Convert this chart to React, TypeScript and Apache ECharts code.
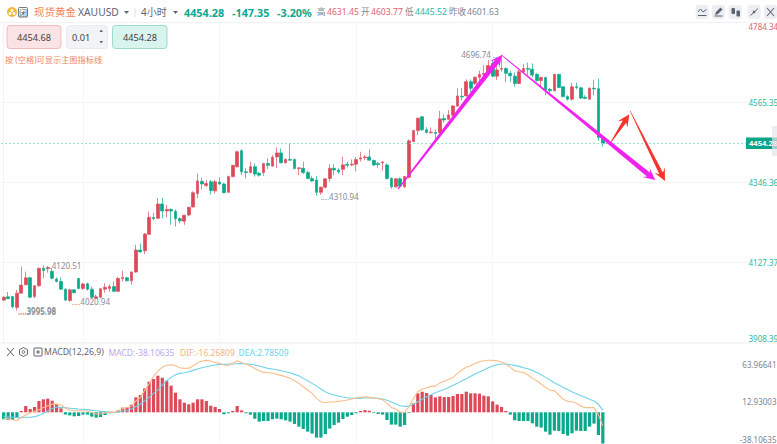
import React, { useEffect, useRef } from "react";
import * as echarts from "echarts";

const FONT = '"Noto Sans", "Noto Sans CJK SC", sans-serif';
const RED = "#dc4a5a";
const GREEN = "#0aa88c";

const opens = [
  4025,4034,4035,4005,4044,4067,4086,4035,4064,4112,
  4111,4104,4083,4076,4055,4024,4053,4084,4057,4070,
  4055,4030,4033,4055,4057,4062,4049,4084,4086,4078,
  4102,4162,4160,4205,4251,4249,4288,4269,4273,4268,
  4248,4241,4258,4280,4317,4350,4339,4349,4324,4348,
  4343,4320,4363,4390,4434,4376,4374,4390,4372,4374,
  4399,4392,4417,4428,4401,4410,4410,4385,4386,4374,
  4358,4354,4320,4334,4358,4386,4381,4383,4397,4395,
  4397,4411,4415,4417,4407,4399,4401,4395,4358,4335,
  4357,4335,4361,4459,4489,4527,4491,4483,4484,4483,
  4522,4520,4531,4556,4583,4584,4623,4618,4635,4643,
  4644,4673,4638,4657,4659,4646,4638,4618,4650,4659,
  4657,4643,4626,4634,4602,4598,4643,4609,4582,4575,
  4609,4606,4580,4575,4605,4603.77,4470,
];
const closes = [
  4033,4029,4007,4044,4066,4086,4033,4064,4112,4106,
  4114,4085,4076,4055,4025,4053,4045,4057,4069,4055,
  4033,4034,4056,4060,4062,4049,4084,4087,4078,4102,
  4162,4157,4206,4252,4248,4288,4269,4273,4269,4248,
  4242,4257,4279,4319,4351,4343,4344,4325,4349,4343,
  4319,4363,4394,4431,4376,4374,4390,4370,4367,4399,
  4394,4416,4428,4401,4410,4408,4385,4387,4374,4358,
  4351,4320,4334,4357,4386,4381,4376,4395,4394,4397,
  4410,4414,4417,4408,4395,4396,4403,4358,4335,4357,
  4337,4363,4461,4489,4523,4491,4484,4485,4481,4521,
  4518,4532,4556,4584,4581,4623,4605,4635,4643,4645,
  4667,4638,4655,4659,4646,4639,4618,4650,4659,4657,
  4641,4626,4634,4600,4598,4643,4607,4582,4575,4609,
  4607,4578,4577,4605,4603,4470,4454.28,
];
const lows = [
  4022,4028,4002,3995.98,4044,4066,4030,4030,4062,4085,
  4100,4082,4073,4053,4023,4020.94,4044,4055,4053,4051,
  4030,4028,4030,4045,4048,4047,4047,4076,4076,4067,
  4100,4155,4151,4205,4244,4248,4249,4252,4231,4226,
  4235,4231,4255,4279,4304,4328,4334,4314,4317,4340,
  4317,4319,4361,4388,4367,4358,4372,4363,4363,4365,
  4384,4390,4386,4399,4399,4407,4383,4367,4370,4356,
  4349,4310.94,4313,4331,4349,4367,4370,4367,4388,4392,
  4378,4404,4408,4407,4392,4387,4379,4355,4330,4333,
  4334,4333,4358,4457,4477,4489,4481,4481,4465,4481,
  4511,4518,4529,4554,4571,4582,4595,4614,4623,4632,
  4642,4636,4627,4650,4621,4623,4609,4616,4646,4641,
  4635,4623,4609,4586,4589,4596,4606,4580,4571,4571,
  4602,4576,4575,4574,4586,4461,4445.52,
];
const highs = [
  4036,4047,4036,4053,4117,4103,4089,4066,4114,4120.51,
  4118,4112,4087,4087,4057,4055,4055,4085,4073,4073,
  4062,4040,4057,4071,4068,4076,4089,4106,4089,4103,
  4176,4180,4208,4267,4264,4304,4305,4285,4276,4273,
  4252,4259,4281,4323,4372,4360,4354,4354,4354,4361,
  4346,4366,4395,4434,4438,4386,4404,4399,4376,4401,
  4413,4422,4443,4440,4413,4454,4413,4388,4404,4379,
  4365,4365,4336,4359,4397,4397,4386,4417,4404,4410,
  4417,4431,4422,4438,4410,4404,4406,4399,4361,4359,
  4361,4365,4465,4491,4525,4529,4498,4498,4492,4543,
  4534,4545,4559,4605,4606,4629,4629,4637,4653,4668,
  4682,4682,4682,4696.74,4662,4653,4648,4655,4671,4675,
  4673,4646,4637,4637,4606,4644,4644,4611,4586,4620,
  4620,4609,4586,4607,4628,4631.45,4472,
];

const macdBars = [
  -8.5,-9.4,-9.4,-6.9,1.6,7.7,4.1,6.5,13.8,15.9,
  16.7,14.2,10.2,4.9,-2.8,-3.7,-4.9,-4.5,-2.8,-2.8,
  -5.3,-6.5,-5.7,-3.3,-1.2,-0.8,2.4,5.7,6.1,9.4,
  18.3,21.2,29.3,37.4,40.7,44.8,42.3,38.7,32.6,24,
  15.9,11.8,9.8,11.8,15.9,15.9,13.8,8.1,6.5,4.1,
  -2.4,-1.2,1.6,7.7,2.4,-1.2,-2.8,-7.7,-11.4,-10.6,
  -10.6,-8.5,-7.7,-8.5,-9.8,-11.4,-14.2,-17.5,-20.4,-23.6,
  -26,-30.9,-30.9,-26.5,-19.9,-15.5,-12.6,-8.1,-5.3,-3.3,
  -1.2,1.6,2.8,2,-0.8,-2,-2.8,-9.4,-15,-15,
  -17.5,-15.5,-0.8,11,23.2,25.2,23.6,21.2,18.3,19.5,
  18.7,18.7,19.9,22.4,22.4,25.2,23.2,23.2,22.8,20.4,
  19.5,13.4,9.4,6.5,1.6,-2.8,-9.8,-10.6,-10.6,-10.6,
  -13.4,-17.5,-18.7,-23.6,-27.3,-22.4,-22.8,-26.5,-28.5,-25.6,
  -22.4,-22.8,-22.8,-17.5,-13.8,-27.7,-38.10635,
];
const difLine = [
  -7.5,-8,-9,-10,-6,-3.3,-0.4,1.2,3,6,
  8,10,10,9,5.3,2.8,2,2,2,1.6,
  -0.4,-2,-2,-0.8,0,0,2,4.5,5.7,7.7,
  14,18,27,35,44,50.5,55,57.4,58.2,57,
  54.5,53.7,54,56.6,60.6,62.7,63.5,62.7,61,59.8,
  57.8,57.4,59.8,63,60.6,59,56.6,53.7,50.9,48.8,
  48.4,48,46.4,45.2,43.5,41.5,38.7,35.4,31.3,27.3,
  23.2,17,13,11.8,12.6,12.6,13.4,14.2,15,16.3,
  17.5,18.3,19,18.3,17.5,16.7,15.5,11,6,3.7,
  0.4,0,7,16.7,25.2,28.5,30,31.7,32,36,
  38,40.3,42.7,47.6,51.7,55,57,59.8,61.9,63,
  63.96641,63.5,63,61.5,59,55,50.9,49.7,48.8,45.6,
  41.5,38.7,34.6,30.5,26.9,26.5,21.2,15.9,13.4,13,
  11,7.7,5.7,5.7,5.7,-3.3,-16.26809,
];
const deaLine = [
  -5,-5.5,-6,-6.5,-6.5,-6,-6,-5.3,-3.7,-1.2,
  1.6,4.5,6.5,5.7,5.7,4.9,4.5,4,3.7,3.3,
  2.4,2,1.2,0.8,0.4,0,0.4,1.6,2,4,
  7,10,14,18.3,23.2,27.3,33.4,38.7,42.7,46,
  47.6,48.4,49.7,51.3,53,54.5,55.8,57,57.8,58.6,
  58.6,59,59,59.4,59.8,59.4,58.6,57.8,56.6,55,
  53.7,53,52,50.9,49.7,48.4,46.4,44.8,41.5,38.7,
  35.4,32,28.5,25.2,22.8,21.2,19.9,18.7,17.9,17.5,
  17,17,17.5,17.5,17.5,17,16.3,14.7,12.6,10.6,
  8.1,7.3,7.3,9.8,13,15.9,19.1,21.6,24,26,
  28,30.5,33,35.4,38.7,41,44,46.8,49.2,51.7,
  54.5,56.6,58.2,59,59,58.2,57.4,56.2,54.5,53.3,
  51.3,48.8,46,42.7,39.5,36.2,33.4,30.5,28,25.2,
  22.8,20.4,18.3,15.9,13.8,9.8,2.78509,
];

const CATEGORY_COUNT = 169;
const categories = Array.from({ length: CATEGORY_COUNT }, (_, i) => String(i));
const verticalGridAt = [18, 49, 80, 111];

const priceTicks = [3908.39, 4127.37, 4346.36, 4565.35, 4784.34];
const macdTicks = [-38.10635, 12.93003, 63.96641];
const lastPrice = 4454.28;

// [candle position, price, label, side, dy, gap]
const extremeLabels: [number, number, string, string, number, number][] = [
  [113, 4696.74, "4696.74 ....", "left", 0, 0],
  [71, 4310.94, "....4310.94", "right", 1, 4],
  [9, 4120.51, "...4120.51", "right", 0, 2],
  [15, 4020.94, "....4020.94", "right", 0, 2],
  [3, 3995.98, "....3995.98", "right", 0, 1],
  [3, 3995.98, "....3995.98", "right", 1.2, 1],
];

// [from position, from price, to position, to price]
const arrowPaths = [
  [89.5, 4329, 113.1, 4695.8],
  [113, 4695.8, 147.9, 4353.7],
  [137.9, 4458.5, 142, 4533.5],
  [142.2, 4543, 150.1, 4351],
];
const arrowColors = ["#ef22ee", "#ef22ee", "#f5342c", "#f5342c"];
const arrowWidths = [[1.2, 5], [0.8, 5], [0.8, 4], [0.5, 4]];

const T = (text: string, x: number, y: number, fill: string, fontSize = 11, fontWeight: any = "normal", textAlign = "left") => ({
  type: "text", x, y, silent: true, z: 50,
  style: { text, fill, fontSize, fontWeight, fontFamily: FONT, textAlign, verticalAlign: "middle" },
});
const box = (x: number, y: number, width: number, height: number, fill: string, stroke = "none", r = 3) => ({
  type: "rect", z: 40, silent: true, shape: { x, y, width, height, r },
  style: { fill, stroke, lineWidth: 1 },
});
const seg = (x1: number, y1: number, x2: number, y2: number, stroke: string, lineWidth = 1) => ({
  type: "line", z: 41, silent: true, shape: { x1, y1, x2, y2 }, style: { stroke, lineWidth },
});
const poly = (points: number[][], fill: string) => ({
  type: "polygon", z: 41, silent: true, shape: { points }, style: { fill },
});
const pline = (points: number[][], stroke: string, lineWidth = 1) => ({
  type: "polyline", z: 41, silent: true, shape: { points }, style: { stroke, lineWidth, fill: "none" },
});

const ICON = "#5c6470";
const headerGraphics: any[] = [
  seg(0, 22.7, 777, 22.7, "#f1f2f4"),
  seg(0, 343, 777, 343, "#eff0f2"),
  ...[83, 219.5, 356, 492.7].map((x) => seg(x, 343, x, 360, "#f5f6f7")),
  { type: "circle", z: 40, silent: true, shape: { cx: 12, cy: 12, r: 5 }, style: { fill: "#f0b83c" } },
  { type: "circle", z: 41, silent: true, shape: { cx: 12, cy: 10.5, r: 1.4 }, style: { fill: "#fff" } },
  { type: "circle", z: 41, silent: true, shape: { cx: 10, cy: 13.5, r: 1.4 }, style: { fill: "#fff" } },
  { type: "circle", z: 41, silent: true, shape: { cx: 14, cy: 13.5, r: 1.4 }, style: { fill: "#fff" } },
  box(18.5, 7.5, 9, 9.5, "#fff", "#777", 1),
  T("闭", 23, 12.5, "#555", 8, "normal", "center"),
  T("现货黄金", 34, 12, "#f2845c", 10.5),
  T("XAUUSD", 78, 12, "#5f6672", 10.3),
  poly([[124, 11], [129, 11], [126.5, 14]], "#5f6672"),
  seg(135, 8, 135, 17, "#dcdfe4"),
  T("4小时", 141, 12, "#5f6672", 10),
  poly([[173, 11], [178, 11], [175.5, 14]], "#5f6672"),
  T("4454.28", 184, 12, "#0aa88c", 10.8, "bold"),
  T("-147.35", 232, 12, "#0aa88c", 10.8, "bold"),
  T("-3.20%", 277, 12, "#0aa88c", 10.8, "bold"),
  T("高", 317, 12, "#7d8590", 8.6),
  T("4631.45", 327, 12, "#e0606f", 8.6),
  T("开", 361, 12, "#7d8590", 8.6),
  T("4603.77", 371, 12, "#e0606f", 8.6),
  T("低", 405, 12, "#7d8590", 8.6),
  T("4445.52", 415, 12, "#2bb79f", 8.6),
  T("昨收", 449, 12, "#7d8590", 8.6),
  T("4601.63", 467, 12, "#7d8590", 8.6),

  box(7, 25.5, 54, 23, "#fbe3e5", "#f3b9bf"),
  T("4454.68", 34, 37.5, "#444", 9.2, "normal", "center"),
  box(66.5, 25.5, 41, 23, "#f1f3f6", "#e8eaee"),
  T("0.01", 72, 37.5, "#444", 9.2),
  poly([[99.5, 32], [103, 32], [101.25, 29.5]], "#666"),
  poly([[99.5, 41], [103, 41], [101.25, 43.5]], "#666"),
  box(112.5, 25.5, 54.5, 23, "#d9f3ed", "#97dccd"),
  T("4454.28", 140, 37.5, "#444", 9.2, "normal", "center"),
  T("按 (空格)可显示主图指标线", 5, 59, "#f2845c", 8.2),

  box(695.7, 5, 13, 14, "#eceef2"),
  box(712, 5, 13, 14, "#eceef2"),
  box(728.7, 5, 13, 14, "#eceef2"),
  box(747.7, 5, 13, 14, "#eceef2"),
  box(764, 5, 13, 14, "#eceef2"),
  pline([[698, 12], [700.5, 9], [703, 12], [706.5, 9.5]], ICON),
  seg(698, 15.5, 706.5, 15.5, ICON),
  poly([[715, 15], [716, 12], [720.5, 7.5], [722.5, 9.5], [718, 14]], ICON),
  seg(714.5, 16, 722.5, 16, ICON),
  box(731.5, 8, 3.5, 6, ICON, "none", 1),
  box(736.5, 10.5, 3.5, 6, ICON, "none", 1),
  seg(750.5, 15.5, 758, 8.5, ICON),
  { type: "circle", z: 41, silent: true, shape: { cx: 754, cy: 12, r: 1.3 }, style: { fill: ICON } },
  seg(767, 8, 774, 16, ICON, 1.1),
  seg(774, 8, 767, 16, ICON, 1.1),

  seg(7, 348, 14, 356, ICON, 1),
  seg(14, 348, 7, 356, ICON, 1),
  { type: "polygon", z: 41, silent: true, shape: { points: [[23.5, 347.5], [27.5, 349.7], [27.5, 354.3], [23.5, 356.5], [19.5, 354.3], [19.5, 349.7]] }, style: { fill: "none", stroke: ICON, lineWidth: 1 } },
  { type: "circle", z: 41, silent: true, shape: { cx: 23.5, cy: 352, r: 1.4 }, style: { fill: "none", stroke: ICON, lineWidth: 1 } },
  box(34, 348, 8, 8, "#fff", ICON, 0.5),
  seg(36, 352, 40, 352, ICON),
  seg(38, 350, 38, 354, ICON),
  T("MACD(12,26,9)", 44, 352, "#5f6672", 8.7),
  T("MACD:-38.10635", 108.5, 352, "#b9a7f0", 8.5),
  T("DIF:-16.26809", 180, 352, "#f5b27c", 8.5),
  T("DEA:2.78509", 238.5, 352, "#6cd2e8", 8.5),

  { ...box(772, 126, 5, 30, "rgba(226,229,233,0.7)", "none", 0), z: 60 },
];

function renderArrow(params: any, api: any) {
  const i = params.dataIndex;
  const a = api.coord([api.value(0), api.value(1)]);
  const b = api.coord([api.value(2), api.value(3)]);
  const dx = b[0] - a[0];
  const dy = b[1] - a[1];
  const len = Math.hypot(dx, dy);
  const ux = dx / len;
  const uy = dy / len;
  const nx = -uy;
  const ny = ux;
  const [tailW, neckW] = arrowWidths[i];
  const headLen = 12;
  const headHalf = 5.8;
  const at = (back: number, side: number) => [
    b[0] - ux * back + nx * side,
    b[1] - uy * back + ny * side,
  ];
  const points = [
    [a[0] + (nx * tailW) / 2, a[1] + (ny * tailW) / 2],
    at(headLen * 0.72, neckW / 2),
    at(headLen, headHalf),
    at(0, 0),
    at(headLen, -headHalf),
    at(headLen * 0.72, -neckW / 2),
    [a[0] - (nx * tailW) / 2, a[1] - (ny * tailW) / 2],
  ];
  return { type: "polygon", shape: { points }, style: { fill: arrowColors[i] } };
}

export default function App() {
  const ref = useRef<HTMLDivElement>(null);
  useEffect(() => {
    if (!ref.current) return;
    const chart = echarts.init(ref.current, undefined, { renderer: "svg" });
    const splitX = {
      show: true,
      alignWithLabel: true,
      interval: (i: number) => verticalGridAt.includes(i),
      lineStyle: { color: "#f5f6f7", width: 1 },
    };
    const catAxis = (gridIndex: number) => ({
      type: "category", gridIndex, data: categories, boundaryGap: true,
      axisLine: { show: false }, axisTick: { show: false, alignWithLabel: true }, axisLabel: { show: false },
      splitLine: splitX,
    });
    chart.setOption({
      animation: false,
      backgroundColor: "#ffffff",
      textStyle: { fontFamily: FONT },
      grid: [
        { left: 1.5, width: 744.5, top: 22.7, height: 320, outerBoundsMode: "none", containLabel: false },
        { left: 1.5, width: 744.5, top: 360, height: 83.5, outerBoundsMode: "none", containLabel: false },
      ],
      xAxis: [
        catAxis(0),
        catAxis(1),
        { type: "value", gridIndex: 0, min: -0.5, max: CATEGORY_COUNT - 0.5, show: false, splitLine: { show: false } },
      ],
      yAxis: [
        {
          type: "value", gridIndex: 0, position: "right",
          min: priceTicks[0], max: priceTicks[4],
          axisLine: { show: true, lineStyle: { color: "#f1f2f4" } },
          axisTick: { show: false, customValues: priceTicks },
          axisLabel: {
            customValues: priceTicks, margin: 2.5, fontSize: 8, fontFamily: FONT,
            align: "left", verticalAlignMinLabel: "bottom", verticalAlignMaxLabel: "top",
            formatter: (v: number) => v.toFixed(2),
            color: (v: any) => (Number(v) > 4700 ? "#e0606f" : "#2bb79f"),
          },
          splitLine: { show: true, lineStyle: { color: "#f3f4f6", width: 1 } },
        },
        {
          type: "value", gridIndex: 1, position: "right",
          min: macdTicks[0], max: macdTicks[2],
          axisLine: { show: false },
          axisTick: { show: false, customValues: macdTicks },
          axisLabel: {
            customValues: macdTicks, margin: 30.5, fontSize: 8, fontFamily: FONT, color: "#7d8590",
            align: "right", verticalAlignMinLabel: "bottom", verticalAlignMaxLabel: "top",
            formatter: (v: number) => v.toFixed(5),
          },
          splitLine: { show: false },
        },
      ],
      series: [
        {
          type: "candlestick", xAxisIndex: 0, yAxisIndex: 0, barWidth: 3.2, z: 3,
          data: opens.map((o, i) => [o, closes[i], lows[i], highs[i]]),
          itemStyle: {
            color: RED, color0: GREEN,
            borderColor: "rgba(220,74,90,0.68)", borderColor0: "rgba(10,168,140,0.68)", borderWidth: 1,
          },
          markPoint: {
            symbol: "circle", symbolSize: 0, silent: true,
            data: extremeLabels.map(([i, p, text, side, dy, gap]) => ({
              coord: [i, p],
              label: {
                show: true, formatter: text, position: side, distance: gap, offset: [0, dy],
                color: "#868c96", fontSize: 8, fontFamily: FONT,
              },
            })),
          },
          markLine: {
            silent: true, symbol: ["none", "none"], animation: false,
            lineStyle: { type: [1.5, 2.5], color: "#7fd6c4", width: 1.2 },
            data: [{ yAxis: lastPrice }],
            label: {
              show: true, position: "end", distance: 0, formatter: () => lastPrice.toFixed(2),
              color: "#fff", backgroundColor: "#0ca58c", fontSize: 7.6, fontWeight: "bold", fontFamily: FONT,
              padding: [2, 1, 2, 3],
            },
          },
        },
        {
          type: "custom", xAxisIndex: 2, yAxisIndex: 0, z: 6, silent: true,
          encode: { x: [0, 2], y: [1, 3] },
          renderItem: renderArrow, data: arrowPaths, clip: false,
        },
        {
          type: "bar", xAxisIndex: 1, yAxisIndex: 1, barWidth: 3.2, z: 3, silent: true,
          data: macdBars,
          itemStyle: { color: (p: any) => (p.value >= 0 ? RED : GREEN) },
        },
        {
          type: "line", xAxisIndex: 1, yAxisIndex: 1, data: difLine, symbol: "none", z: 5, silent: true,
          lineStyle: { color: "#f9bd8a", width: 1.1 },
        },
        {
          type: "line", xAxisIndex: 1, yAxisIndex: 1, data: deaLine, symbol: "none", z: 4, silent: true,
          lineStyle: { color: "#6fd3e8", width: 1.1 },
        },
      ],
      graphic: headerGraphics,
    });
    return () => chart.dispose();
  }, []);
  return <div ref={ref} style={{ position: "fixed", left: 0, top: 0, width: 777, height: 444, background: "#fff" }} />;
}
